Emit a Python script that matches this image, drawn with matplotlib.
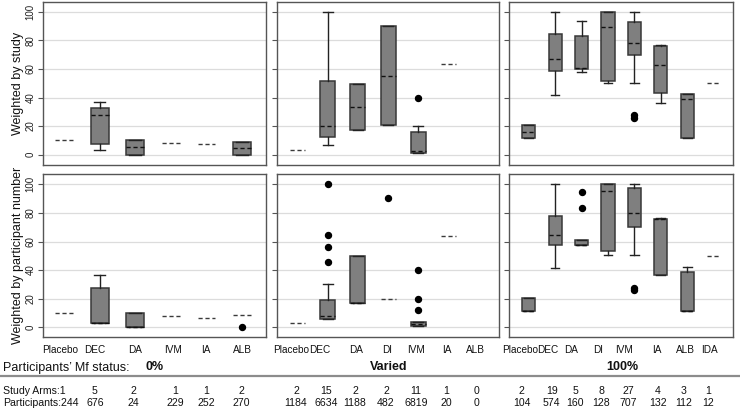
import matplotlib
matplotlib.use("Agg")
import matplotlib.pyplot as plt
from matplotlib.lines import Line2D

plt.rcParams['font.family'] = ['Liberation Sans', 'DejaVu Sans']

# ---------------- data ----------------
mf_status = ["0%", "Varied", "100%"]
cats_0 = ["Placebo", "DEC", "DA", "IVM", "IA", "ALB"]
cats_varied = ["Placebo", "DEC", "DA", "DI", "IVM", "IA", "ALB"]
cats_100 = ["Placebo", "DEC", "DA", "DI", "IVM", "IA", "ALB", "IDA"]
row_labels = ["Weighted by study", "Weighted by participant number"]

# order of entries: 0% (6) | Varied (7) | 100% (8); None = no data
study_lo  = [10, 3.2, 0, 8.3, 7.2, 0,      3, 6.5, 17.4, 20.4, 1.2, 63.8, None,   11.6, 41.5, 57.8, 50.1, 50.1, 36.4, 11.6, 49.9]
study_q1  = [10, 7.4, 0, 8.3, 7.2, 0,      3, 12.5, 17.4, 20.4, 1.4, 63.8, None,  11.6, 58.9, 60.1, 51.5, 69.6, 43.2, 11.6, 49.9]
study_med = [10, 27.8, 5.3, 8.3, 7.2, 4.6, 3, 19.7, 33.4, 55, 2.5, 63.8, None,    16, 66.8, 61, 89.8, 78.4, 62.6, 38.7, 49.9]
study_q3  = [10, 32.7, 10, 8.3, 7.2, 8.8,  3, 51.3, 49.7, 90.3, 16, 63.8, None,   20.6, 84.2, 83.1, 100, 93.3, 76.1, 42.2, 49.9]
study_hi  = [10, 36.6, 10, 8.3, 7.2, 8.8,  3, 100, 49.7, 90.3, 20, 63.8, None,    20.6, 100, 93.7, 100, 100, 76.6, 42.2, 49.9]
study_fliers = [[], [], [], [], [], [],
                [], [], [], [], [40], [], [],
                [], [], [], [], [25.8, 27.6], [], [], []]

part_lo  = [10.3, 3, 0, 8.2, 6.8, 8.4,    2.8, 6.1, 17, 20, 1.2, 63.9, None,   11.4, 41.7, 57.6, 50.3, 50.3, 36.6, 11.4, 50.1]
part_q1  = [10.3, 3, 0, 8.2, 6.8, 8.4,    2.8, 6.1, 17, 20, 1.2, 63.9, None,   11.4, 57.3, 57.6, 53.1, 69.9, 36.6, 11.4, 50.1]
part_med = [10.3, 3, 0, 8.2, 6.8, 8.4,    2.8, 7.9, 17, 20, 2.3, 63.9, None,   11.4, 64.8, 57.6, 95.3, 80.2, 76.0, 11.4, 50.1]
part_q3  = [10.3, 27.7, 10, 8.2, 6.8, 8.4, 2.8, 18.9, 49.9, 20, 4, 63.9, None,  20.3, 78.1, 61.3, 100, 97.4, 76.0, 38.5, 50.1]
part_hi  = [10.3, 36.8, 10, 8.2, 6.8, 8.4, 2.8, 30.1, 49.9, 20, 4, 63.9, None,  20.3, 100, 61.3, 100, 100, 76.7, 42.2, 50.1]
part_fliers = [[], [], [], [], [], [0],
               [], [100, 64.3, 56.4, 45.5], [], [90.2], [39.9, 20, 12.1], [], [],
               [], [], [94.4, 83.2], [], [25.8, 27.6], [], [], []]

arms_0 = [1, 5, 2, 1, 1, 2]
arms_varied = [2, 15, 2, 2, 11, 1, 0]
arms_100 = [2, 19, 5, 8, 27, 4, 3, 1]
participants_0 = [244, 676, 24, 229, 252, 270]
participants_varied = [1184, 6634, 1188, 482, 6819, 20, 0]
participants_100 = [104, 574, 160, 128, 707, 132, 112, 12]

# ---------------- layout (pixels) ----------------
W, H = 740, 409
panel_x = [(43, 265.5), (276.7, 499.3), (509.3, 732.7)]
row_y = [(2, 164.5), (174.3, 337.3)]
xlims = [(0.41, 6.66), (0.32, 7.67), (0.266, 8.72)]
label_x = [[60.5, 94.7, 135, 173, 206.3, 242],
           [291, 320, 355.8, 386.7, 416.3, 446.7, 475.8],
           [520, 547.5, 570.8, 597.7, 624, 656.7, 685.8, 709.2]]
num_x = [[None, 95, 133, 175, 206, 241],
         [296, 326, 355, 386, 416, 446, 476],
         [521.7, 551.7, 575.3, 601.5, 628.5, 657.8, 683.5, 708.5]]
status_x = [154.5, 388.7, 622]
y_lab, y_status, y_line, y_arms, y_parts = 350, 367.5, 376, 391, 402.5


def rect(x0, x1, y0, y1):
    return [x0 / W, 1 - y1 / H, (x1 - x0) / W, (y1 - y0) / H]


def fx(px):
    return px / W


def fy(py):
    return 1 - py / H


fig = plt.figure(figsize=(W / 100, H / 100), dpi=100)
fig.patch.set_facecolor('white')

cats_all = [cats_0, cats_varied, cats_100]
rows = [
    (study_lo, study_q1, study_med, study_q3, study_hi, study_fliers),
    (part_lo, part_q1, part_med, part_q3, part_hi, part_fliers),
]

box_fc = '#7f7f7f'
edge_c = '#383838'

for r, (lo, q1, med, q3, hi, fl) in enumerate(rows):
    start = 0
    for p, cats in enumerate(cats_all):
        ax = fig.add_axes(rect(panel_x[p][0], panel_x[p][1], row_y[r][0], row_y[r][1]))
        ax.set_xlim(*xlims[p])
        ax.set_ylim(-7, 107)
        ax.set_yticks([0, 20, 40, 60, 80, 100])
        ax.yaxis.grid(True, color='#dcdcdc', lw=0.9)
        ax.set_axisbelow(True)
        ax.set_xticks([])
        for s in ax.spines.values():
            s.set_color('#555555')
            s.set_linewidth(1.0)
        ax.tick_params(axis='y', length=3.5, width=0.8, color='#555555',
                       labelsize=7, labelrotation=90, pad=2, labelcolor='#222222')
        if p > 0:
            ax.tick_params(axis='y', labelleft=False)
        else:
            for lab in ax.get_yticklabels():
                lab.set_va('center')
        for i in range(len(cats)):
            k = start + i
            pos = i + 1
            if lo[k] is None:
                continue
            if q1[k] == q3[k]:
                ax.hlines(med[k], pos - 0.25, pos + 0.25, colors='#3a3a3a',
                          linestyles=(0, (3, 2)), lw=1.0, zorder=3)
                if fl[k]:
                    ax.plot([pos] * len(fl[k]), fl[k], 'o', color='black',
                            ms=4.3, zorder=4)
            else:
                st = dict(med=med[k], q1=q1[k], q3=q3[k], whislo=lo[k],
                          whishi=hi[k], fliers=fl[k])
                ax.bxp([st], positions=[pos], widths=0.5, capwidths=0.33,
                       patch_artist=True, manage_ticks=False,
                       boxprops=dict(facecolor=box_fc, edgecolor=edge_c, lw=1.1),
                       medianprops=dict(color='#111111', lw=1.0, linestyle=(0, (3, 2))),
                       whiskerprops=dict(color='#222222', lw=1.0),
                       capprops=dict(color='#222222', lw=1.0),
                       flierprops=dict(marker='o', markerfacecolor='black',
                                       markeredgecolor='black', markersize=4.3))
        start += len(cats)

# row titles
for r, lab in enumerate(row_labels):
    yc = (row_y[r][0] + row_y[r][1]) / 2
    fig.text(fx(18), fy(yc), lab, rotation=90, ha='center', va='center',
             fontsize=9, color='#111111')

# category labels (narrow font, like the reference)
narrow = ['Liberation Sans Narrow', 'Liberation Sans', 'DejaVu Sans']
for p, cats in enumerate(cats_all):
    for c, x in zip(cats, label_x[p]):
        fig.text(fx(x), fy(y_lab), c, ha='center', va='center', fontsize=7.2,
                 color='#111111', family=narrow)

# status row
fig.text(fx(3), fy(y_status), "Participants\u2019 Mf status:", ha='left', va='center',
         fontsize=9, color='#111111')
for s, x in zip(mf_status, status_x):
    fig.text(fx(x), fy(y_status), s, ha='center', va='center', fontsize=9,
             fontweight='bold', color='#111111')

# separator
fig.add_artist(Line2D([0, 1], [fy(y_line), fy(y_line)], transform=fig.transFigure,
                      color='#8c8c8c', lw=1.6))

# table
arms_all = [arms_0, arms_varied, arms_100]
parts_all = [participants_0, participants_varied, participants_100]
fig.text(fx(3), fy(y_arms), "Study Arms:%d" % arms_0[0], ha='left', va='center',
         fontsize=7.6, color='#111111')
fig.text(fx(3), fy(y_parts), "Participants:%d" % participants_0[0], ha='left',
         va='center', fontsize=7.6, color='#111111')
for p in range(3):
    for j, x in enumerate(num_x[p]):
        if x is None:
            continue
        fig.text(fx(x), fy(y_arms), str(arms_all[p][j]), ha='center', va='center',
                 fontsize=7.6, color='#111111')
        fig.text(fx(x), fy(y_parts), str(parts_all[p][j]), ha='center', va='center',
                 fontsize=7.6, color='#111111')

fig.savefig('out.png', dpi=100, facecolor='white')
